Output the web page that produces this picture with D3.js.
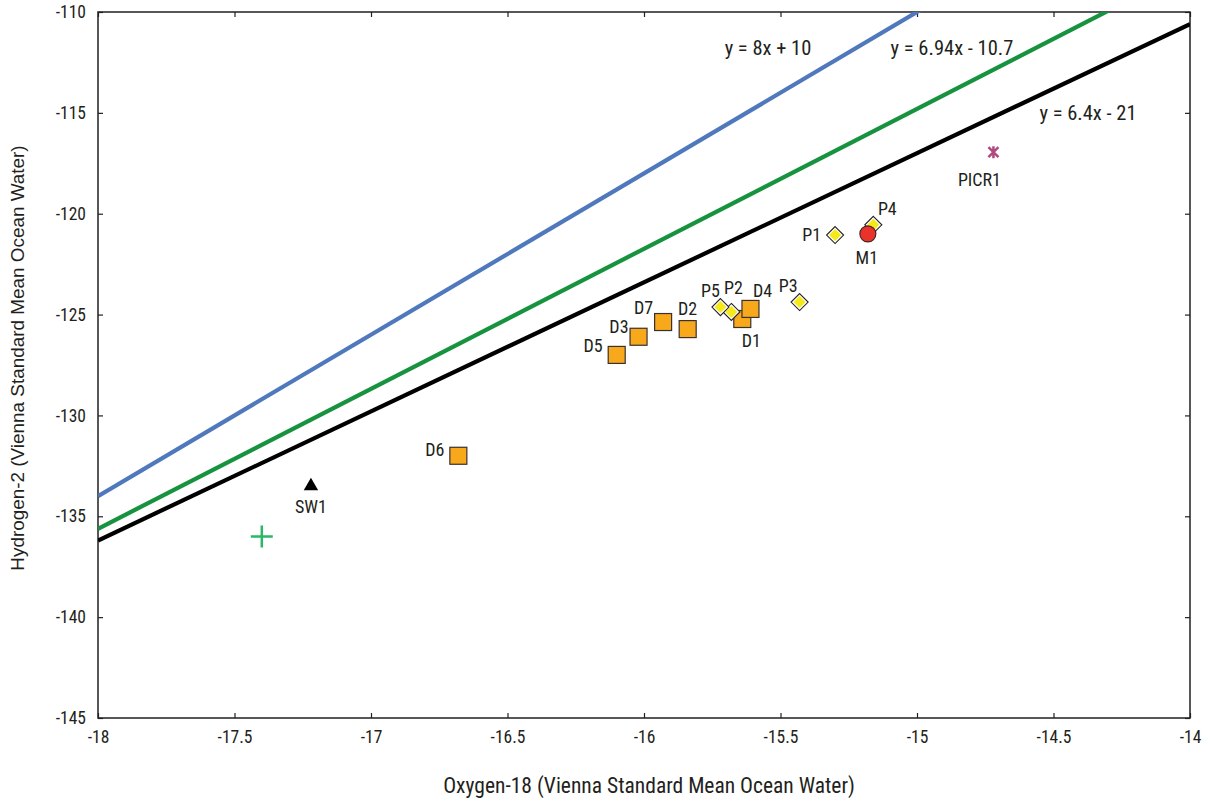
<!DOCTYPE html>
<html>
<head>
<meta charset="utf-8">
<script src="https://cdn.jsdelivr.net/npm/d3@7"></script>
<style>
  html, body { margin: 0; padding: 0; background: #fff; }
  svg { display: block; }
  text { font-family: "Liberation Sans Narrow", "Arial Narrow", "Roboto Condensed", Roboto, sans-serif; fill: #231f20; }
</style>
</head>
<body>
<svg id="chart" width="1210" height="803"></svg>
<script>
// ---- data ----
const xTicks = [-18, -17.5, -17, -16.5, -16, -15.5, -15, -14.5, -14];
const yTicks = [-110, -115, -120, -125, -130, -135, -140, -145];

const sampleNames = ["D1", "D2", "D3", "D4", "D5", "D6", "D7"];
const sampleX = [-15.64, -15.84, -16.02, -15.61, -16.10, -16.68, -15.93];
const sampleY = [-125.22, -125.72, -126.10, -124.72, -127.00, -132.00, -125.37];

const pNames = ["P1", "P2", "P3", "P4", "P5"];
const pX = [-15.30, -15.68, -15.43, -15.16, -15.72];
const pY = [-121.06, -124.87, -124.38, -120.55, -124.63];

const mNames = ["M1"];
const mX = [-15.18];
const mY = [-121.0];

const swNames = ["SW1"];
const swX = [-17.22];
const swY = [-133.5];

const picrNames = ["PICR1"];
const picrX = [-14.72];
const picrY = [-116.95];

const plusX = [-17.40];
const plusY = [-136.0];

const lineLabels = ["y = 8x + 10", "y = 6.94x - 10.7", "y = 6.4x - 21"];
const lineSlopes = [8, 6.94, 6.4];
const lineIntercepts = [10, -10.7, -21];
const lineColors = ["#4f78bd", "#17923f", "#000000"];

// ---- layout ----
const svg = d3.select("#chart");
const pLeft = 98, pRight = 1190, pTop = 12, pBottom = 718;
const x = d3.scaleLinear().domain([-18, -14]).range([pLeft, pRight]);
const y = d3.scaleLinear().domain([-145, -110]).range([pBottom, pTop]);

svg.append("defs").append("clipPath").attr("id", "clip")
  .append("rect").attr("x", pLeft).attr("y", pTop).attr("width", pRight - pLeft).attr("height", pBottom - pTop);

// frame
svg.append("rect").attr("x", pLeft).attr("y", pTop).attr("width", pRight - pLeft).attr("height", pBottom - pTop)
  .attr("fill", "none").attr("stroke", "#231f20").attr("stroke-width", 1.5);

// axes (ticks inward)
const fmt = d => String(d);
const xAxisB = d3.axisBottom(x).tickValues(xTicks).tickSize(-5).tickPadding(12).tickFormat(fmt);
const xAxisT = d3.axisTop(x).tickValues(xTicks).tickSize(-5).tickFormat("");
const yAxisL = d3.axisLeft(y).tickValues(yTicks).tickSize(-5).tickPadding(12).tickFormat(fmt);
const yAxisR = d3.axisRight(y).tickValues(yTicks).tickSize(-5).tickFormat("");

function styleAxis(g) {
  g.select(".domain").remove();
  g.selectAll(".tick line").attr("stroke", "#231f20").attr("stroke-width", 1.2);
  g.selectAll(".tick text").style("font-size", "17.5px").attr("fill", "#231f20")
    .style("font-family", '"Liberation Sans Narrow", "Arial Narrow", "Roboto Condensed", Roboto, sans-serif');
}
svg.append("g").attr("transform", `translate(0,${pBottom})`).call(xAxisB).call(styleAxis)
  .selectAll(".tick text").attr("dy", "0.75em");
svg.append("g").attr("transform", `translate(0,${pTop})`).call(xAxisT).call(styleAxis);
svg.append("g").attr("transform", `translate(${pLeft},0)`).call(yAxisL).call(styleAxis);
svg.append("g").attr("transform", `translate(${pRight},0)`).call(yAxisR).call(styleAxis);

// axis titles
svg.append("text").attr("x", 649).attr("y", 793).attr("text-anchor", "middle")
  .style("font-size", "21.5px").text("Oxygen-18 (Vienna Standard Mean Ocean Water)");
svg.append("text").attr("transform", "translate(24,358) rotate(-90)").attr("text-anchor", "middle")
  .style("font-size", "18.9px").style("font-family", '"Liberation Sans", Arial, sans-serif')
  .text("Hydrogen-2 (Vienna Standard Mean Ocean Water)");

// regression / meteoric lines
const lines = svg.append("g").attr("clip-path", "url(#clip)");
lineSlopes.forEach((m, i) => {
  const b = lineIntercepts[i];
  const pts = [[-18, m * -18 + b], [-14, m * -14 + b]];
  lines.append("path")
    .attr("d", d3.line().x(d => x(d[0])).y(d => y(d[1]))(pts))
    .attr("stroke", lineColors[i]).attr("stroke-width", 4.2).attr("fill", "none");
});
const lineLabelPos = [[768, 55], [952, 55], [1088, 120]];
lineLabels.forEach((t, i) => {
  svg.append("text").attr("x", lineLabelPos[i][0]).attr("y", lineLabelPos[i][1])
    .attr("text-anchor", "middle").style("font-size", "20.5px").text(t);
});

const labelSize = "18px";
function addLabel(px, py, t, anchor) {
  svg.append("text").attr("x", px).attr("y", py).attr("text-anchor", anchor || "middle")
    .style("font-size", labelSize).text(t);
}

// green plus
plusX.forEach((v, i) => {
  const cx = x(v), cy = y(plusY[i]);
  svg.append("path").attr("d", `M${cx - 11},${cy}H${cx + 11}M${cx},${cy - 11}V${cy + 11}`)
    .attr("stroke", "#2bb866").attr("stroke-width", 2.5);
});

// PICR1 asterisk
picrX.forEach((v, i) => {
  const cx = x(v), cy = y(picrY[i]);
  svg.append("path").attr("d", `M${cx - 5},${cy - 5}L${cx + 5},${cy + 5}M${cx + 5},${cy - 5}L${cx - 5},${cy + 5}M${cx},${cy - 6}V${cy + 6}`)
    .attr("stroke", "#b04a82").attr("stroke-width", 2.5);
  addLabel(cx - 14, cy + 34, picrNames[i]);
});

// SW1 triangle
swX.forEach((v, i) => {
  const cx = x(v), cy = y(swY[i]);
  svg.append("path").attr("transform", `translate(${cx},${cy})`)
    .attr("d", d3.symbol().type(d3.symbolTriangle).size(90)()).attr("fill", "#000");
  addLabel(cx, cy + 27, swNames[i]);
});

// D squares
const sqLabelOff = {
  D1: [9, 28, "middle"], D2: [0, -14, "middle"], D3: [-10, -4, "end"], D4: [12, -12, "middle"],
  D5: [-14, -3, "end"], D6: [-14, 0, "end"], D7: [-10, -8, "end"]
};
sampleX.forEach((v, i) => {
  const cx = x(v), cy = y(sampleY[i]);
  svg.append("rect").attr("x", cx - 8.5).attr("y", cy - 8.5).attr("width", 17).attr("height", 17)
    .attr("fill", "#f7a81b").attr("stroke", "#3a3030").attr("stroke-width", 1.2);
});

// P diamonds
const pLabelOff = {
  P1: [-14, 6, "end"], P2: [2, -18, "middle"], P3: [-2, -10, "end"], P4: [14, -10, "middle"], P5: [-10, -10, "middle"]
};
pX.forEach((v, i) => {
  const cx = x(v), cy = y(pY[i]);
  const g = svg.append("g").attr("transform", `translate(${cx},${cy})`);
  g.append("path").attr("d", "M0,-8.5L8.5,0L0,8.5L-8.5,0Z")
    .attr("fill", "#fff").attr("stroke", "#231f20").attr("stroke-width", 1.1);
  g.append("path").attr("d", "M0,-6L6,0L0,6L-6,0Z").attr("fill", "#f5e919");
});

// M1 circle
mX.forEach((v, i) => {
  const cx = x(v), cy = y(mY[i]);
  svg.append("circle").attr("cx", cx).attr("cy", cy).attr("r", 8)
    .attr("fill", "#e8322a").attr("stroke", "#3a2020").attr("stroke-width", 1.1);
  addLabel(cx - 1, cy + 30, mNames[i]);
});

// labels for D and P
sampleNames.forEach((n, i) => {
  const o = sqLabelOff[n];
  addLabel(x(sampleX[i]) + o[0], y(sampleY[i]) + o[1], n, o[2]);
});
pNames.forEach((n, i) => {
  const o = pLabelOff[n];
  addLabel(x(pX[i]) + o[0], y(pY[i]) + o[1], n, o[2]);
});
</script>
</body>
</html>
